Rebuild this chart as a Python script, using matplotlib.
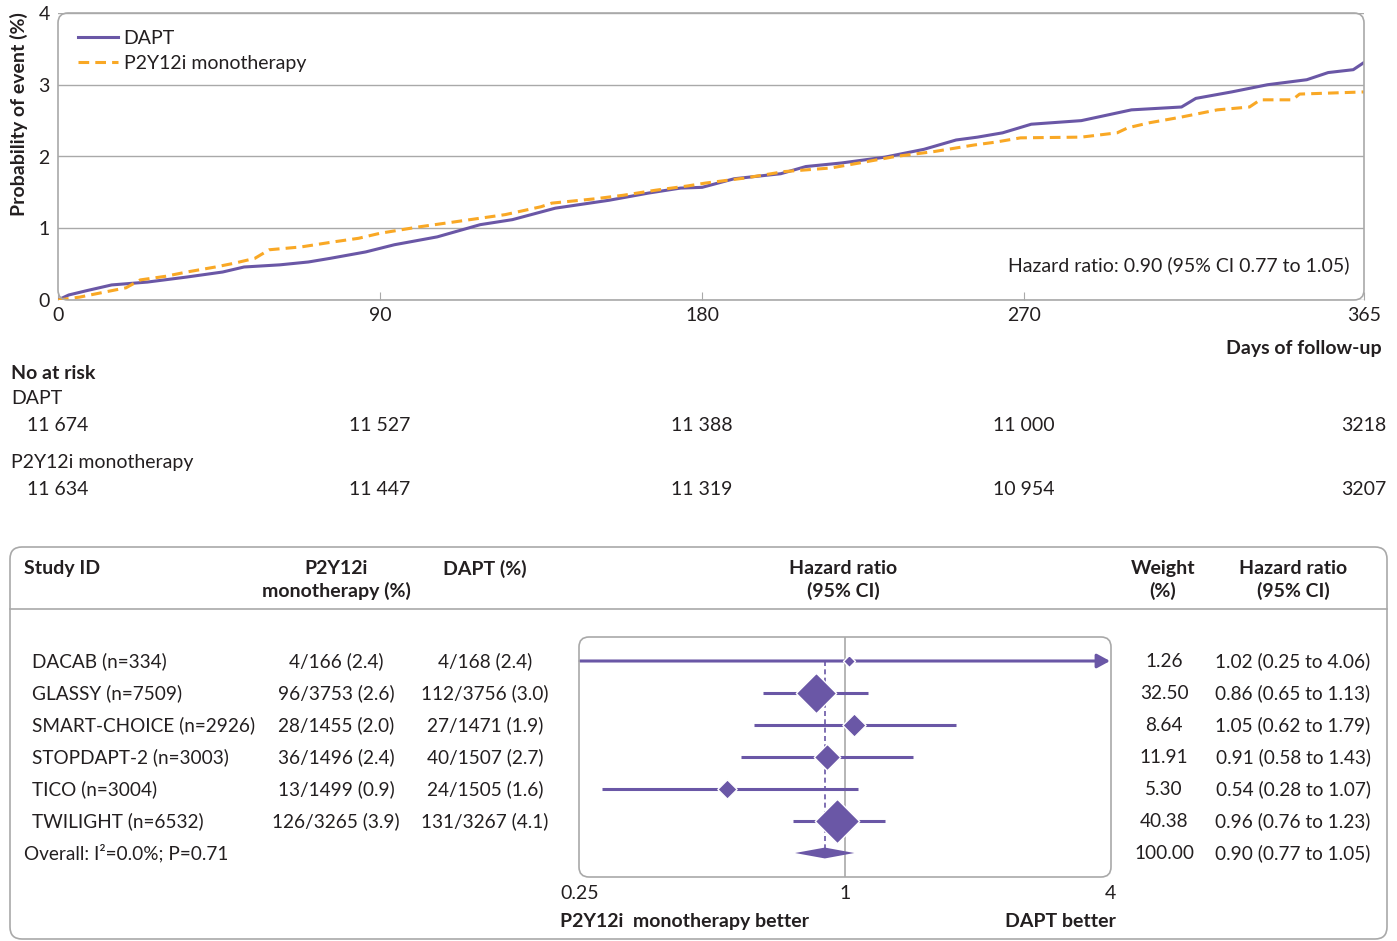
import matplotlib
matplotlib.use('Agg')
import matplotlib.pyplot as plt
import numpy as np
from matplotlib.patches import FancyBboxPatch
from matplotlib.lines import Line2D
from matplotlib.ticker import NullLocator

plt.rcParams['font.family'] = ['Lato', 'DejaVu Sans']
plt.rcParams['font.size'] = 14
plt.rcParams['text.color'] = '#231f20'

PURPLE = '#6a57a6'
ORANGE = '#f9a825'
GREY = '#a9a9a9'
DARK = '#231f20'

# Kaplan-Meier curves (days, cumulative probability %)
dapt_days = [0, 3, 8, 15, 25, 36, 46, 52, 62, 70, 76, 86, 90, 94, 106, 118, 127, 139, 154,
             165, 174, 180, 189, 202, 209, 219, 231, 242, 251, 257, 264, 272, 286, 300, 314,
             318, 328, 338, 349, 355, 362, 365]
dapt_prob = [0, 0.07, 0.13, 0.21, 0.25, 0.32, 0.39, 0.46, 0.49, 0.53, 0.58, 0.67, 0.72, 0.77,
             0.88, 1.05, 1.12, 1.28, 1.39, 1.49, 1.56, 1.57, 1.69, 1.76, 1.86, 1.91, 1.99, 2.10,
             2.23, 2.27, 2.33, 2.45, 2.50, 2.65, 2.69, 2.81, 2.90, 3.00, 3.07, 3.17, 3.21, 3.31]
mono_days = [0, 6, 12, 19, 23, 30, 36, 44, 49, 55, 59, 68, 77, 84, 90, 101, 111, 125, 135, 138,
             150, 158, 167, 176, 181, 192, 203, 216, 224, 234, 245, 256, 262, 269, 286, 296, 299,
             305, 314, 324, 333, 336, 345, 347, 365]
mono_prob = [0, 0.04, 0.10, 0.17, 0.28, 0.33, 0.39, 0.46, 0.51, 0.58, 0.70, 0.74, 0.81, 0.86,
             0.93, 1.02, 1.09, 1.19, 1.30, 1.35, 1.41, 1.46, 1.53, 1.59, 1.63, 1.70, 1.79, 1.84,
             1.91, 2.00, 2.07, 2.16, 2.20, 2.26, 2.27, 2.33, 2.40, 2.47, 2.55, 2.65, 2.69, 2.79,
             2.79, 2.87, 2.90]

risk_days = [0, 90, 180, 270, 365]
risk_dapt = ['11 674', '11 527', '11 388', '11 000', '3218']
risk_mono = ['11 634', '11 447', '11 319', '10 954', '3207']

# Forest plot data
studies = ['DACAB (n=334)', 'GLASSY (n=7509)', 'SMART-CHOICE (n=2926)', 'STOPDAPT-2 (n=3003)',
           'TICO (n=3004)', 'TWILIGHT (n=6532)']
mono_events = ['4/166 (2.4)', '96/3753 (2.6)', '28/1455 (2.0)', '36/1496 (2.4)',
               '13/1499 (0.9)', '126/3265 (3.9)']
dapt_events = ['4/168 (2.4)', '112/3756 (3.0)', '27/1471 (1.9)', '40/1507 (2.7)',
               '24/1505 (1.6)', '131/3267 (4.1)']
hr = [1.02, 0.86, 1.05, 0.91, 0.54, 0.96]
hr_lo = [0.25, 0.65, 0.62, 0.58, 0.28, 0.76]
hr_hi = [4.06, 1.13, 1.79, 1.43, 1.07, 1.23]
weight = [1.26, 32.50, 8.64, 11.91, 5.30, 40.38]
overall = [0.90, 0.77, 1.05]
overall_weight = 100.00

W, H = 1397, 941
fig = plt.figure(figsize=(W / 100, H / 100), dpi=100)


def fx(x):
    return x / W


def fy(y):
    return 1 - y / H


def axes_px(l, t, r, b):
    return fig.add_axes([l / W, 1 - b / H, (r - l) / W, (b - t) / H])


def round_box(l, t, r, b, rad=10):
    box = FancyBboxPatch((fx(l), fy(b)), (r - l) / W, (b - t) / H,
                         boxstyle=f'round,pad=0,rounding_size={rad / W}',
                         mutation_aspect=W / H, transform=fig.transFigure,
                         fill=False, ec=GREY, lw=1.2, zorder=5)
    fig.add_artist(box)


def txt(x, y, s, **kw):
    kw.setdefault('va', 'center_baseline')
    fig.text(fx(x), fy(y), s, **kw)


# ---- Kaplan-Meier panel ----
ax = axes_px(58, 13, 1364, 300)
ax.plot(dapt_days, dapt_prob, color=PURPLE, lw=2.2, label='DAPT', zorder=3)
ax.plot(mono_days, mono_prob, color=ORANGE, lw=2.2, dashes=(3.5, 2), label='P2Y12i monotherapy', zorder=3)
ax.set_xlim(0, 365)
ax.set_ylim(0, 4)
ax.set_yticks([0, 1, 2, 3, 4])
ax.set_xticks(risk_days)
ax.grid(axis='y', color=GREY, lw=1.0)
ax.tick_params(axis='y', length=0, pad=6, labelsize=14, labelcolor=DARK)
ax.tick_params(axis='x', direction='in', length=6, color=GREY, pad=5, labelsize=14, labelcolor=DARK)
for s in ax.spines.values():
    s.set_visible(False)
round_box(58, 13, 1364, 300)
ax.legend(loc='upper left', bbox_to_anchor=(0.0153, 0.941), frameon=False, borderpad=0,
          borderaxespad=0, handlelength=2.05, handletextpad=0.3, labelspacing=0.42, fontsize=14)
txt(1350, 264, 'Hazard ratio: 0.90 (95% CI 0.77 to 1.05)', ha='right')
txt(19, 114, 'Probability of event (%)', rotation=90, ha='center', va='center', weight='bold')
txt(1382, 347, 'Days of follow-up', ha='right', weight='bold')

# numbers at risk
txt(11, 372, 'No at risk', weight='bold')
txt(11, 397, 'DAPT')
txt(11, 461, 'P2Y12i monotherapy')
for d, a, b in zip(risk_days, risk_dapt, risk_mono):
    xp = 58 + d * (1364 - 58) / 365
    txt(xp, 424, a, ha='center')
    txt(xp, 488, b, ha='center')

# ---- Forest table ----
round_box(10, 547, 1387, 939, rad=12)
fig.add_artist(Line2D([fx(10), fx(1387)], [fy(609), fy(609)], color=GREY, lw=1.2,
                      transform=fig.transFigure))
txt(24, 567, 'Study ID', weight='bold')
txt(485, 567, 'DAPT (%)', ha='center', weight='bold')
for xh, l1, l2 in [(336, 'P2Y12i', 'monotherapy (%)'), (843, 'Hazard ratio', '(95% CI)'),
                   (1163, 'Weight', '(%)'), (1293, 'Hazard ratio', '(95% CI)')]:
    txt(xh, 567, l1, ha='center', weight='bold')
    txt(xh, 589, l2, ha='center', weight='bold')

row_y = [660 + 32 * i for i in range(7)]
for i in range(len(studies)):
    txt(32, row_y[i], studies[i], fontsize=13.7)
    txt(336, row_y[i], mono_events[i], ha='center', fontsize=13.7)
    txt(485, row_y[i], dapt_events[i], ha='center', fontsize=13.7)
    txt(1164, row_y[i], f'{weight[i]:.2f}', ha='center', fontsize=13.7)
    txt(1293, row_y[i], f'{hr[i]:.2f} ({hr_lo[i]:.2f} to {hr_hi[i]:.2f})', ha='center', fontsize=13.7)
txt(24, row_y[6], 'Overall: I\u00b2=0.0%; P=0.71', fontsize=13.7)
txt(1164, row_y[6], f'{overall_weight:.2f}', ha='center', fontsize=13.7)
txt(1293, row_y[6], f'{overall[0]:.2f} ({overall[1]:.2f} to {overall[2]:.2f})', ha='center', fontsize=13.7)

fa = axes_px(580, 637, 1110, 877)
fa.set_xscale('log', base=2)
fa.set_xlim(0.25, 4)
fa.set_ylim(6.75, -0.75)
for s in fa.spines.values():
    s.set_visible(False)
round_box(579, 637, 1111, 877)
fa.axvline(1, color=GREY, lw=1.2, zorder=1)
fa.plot([overall[0], overall[0]], [0, 6], color=PURPLE, lw=1.2, dashes=(3, 2), zorder=1)
for i in range(len(studies)):
    if hr_hi[i] > 4:
        fa.annotate('', xy=(4, i), xytext=(hr_lo[i], i),
                     arrowprops=dict(arrowstyle='-|>,head_length=0.55,head_width=0.3',
                                     color=PURPLE, lw=2.2, shrinkA=0, shrinkB=0,
                                     mutation_scale=14))
    else:
        fa.plot([hr_lo[i], hr_hi[i]], [i, i], color=PURPLE, lw=2.2, solid_capstyle='butt', zorder=2)
    # diamond area follows study weight
    fa.plot(hr[i], i, marker=[(0, 1), (1, 0), (0, -1), (-1, 0), (0, 1)],
            markersize=(6.2 * np.sqrt(weight[i]) + 5) * 0.72, color=PURPLE,
            markeredgecolor='white', markeredgewidth=1.0, zorder=4)
fa.fill([overall[1], overall[0], overall[2], overall[0]], [6, 5.83, 6, 6.17],
        color=PURPLE, lw=0, zorder=4)
fa.set_yticks([])
fa.set_xticks([0.25, 1, 4], labels=['0.25', '1', '4'])
fa.xaxis.set_minor_locator(NullLocator())
fa.tick_params(axis='x', length=0, pad=6, labelsize=14, labelcolor=DARK)
txt(560, 920, 'P2Y12i  monotherapy better', weight='bold')
txt(1116, 920, 'DAPT better', ha='right', weight='bold')

fig.savefig('out.png', dpi=100)
